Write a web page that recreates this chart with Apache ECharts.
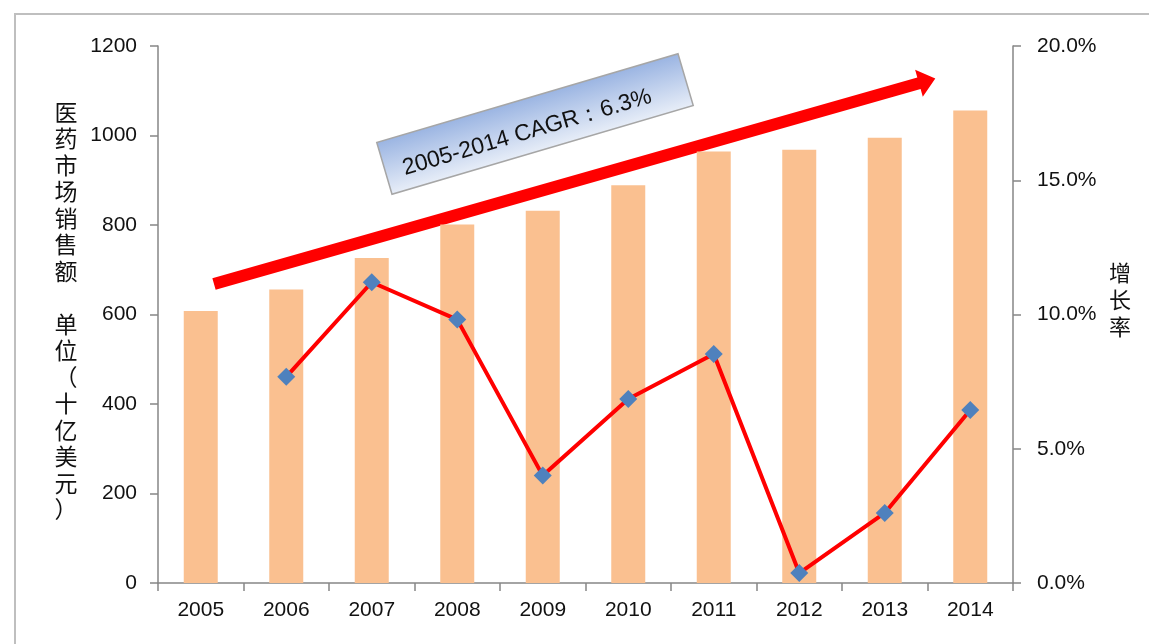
<!DOCTYPE html>
<html>
<head>
<meta charset="utf-8">
<script src="https://cdn.jsdelivr.net/npm/echarts@6/dist/echarts.min.js"></script>
<style>
  html, body { margin: 0; padding: 0; background: #fff; }
  #chart { width: 1149px; height: 644px; }
</style>
</head>
<body>
<div id="chart"></div>
<script>
const years = ['2005', '2006', '2007', '2008', '2009', '2010', '2011', '2012', '2013', '2014']
// 医药市场销售额（十亿美元）
const sales = [608, 656, 726, 801, 832, 889, 964, 968, 995, 1056]
// 增长率（%），2005 无数据
const growth = [null, 7.68, 11.2, 9.81, 4.0, 6.85, 8.53, 0.37, 2.61, 6.44]
const leftTitle = '医药市场销售额\u3000单位（十亿美元）'
const rightTitle = '增长率'
const cagrText = '2005-2014 CAGR：6.3%'

const labelFont = '"Liberation Sans", Arial, sans-serif'
const cjkFont = '"Noto Sans CJK SC", sans-serif'
const axisGray = '#868686'
const textColor = '#111'

const chart = echarts.init(document.getElementById('chart'))

const deg = Math.PI / 180

chart.setOption({
  animation: false,
  backgroundColor: '#fff',
  grid: { left: 158, right: 136, top: 46, bottom: 61 },
  xAxis: {
    type: 'category',
    data: years,
    axisLine: { lineStyle: { color: axisGray, width: 1.5 } },
    axisTick: { show: true, length: 8, lineStyle: { color: axisGray, width: 1.5 } },
    axisLabel: { color: textColor, fontSize: 21, fontFamily: labelFont, margin: 17 },
  },
  yAxis: [
    {
      type: 'value',
      min: 0,
      max: 1200,
      interval: 200,
      splitLine: { show: false },
      axisLine: { show: true, lineStyle: { color: axisGray, width: 1.5 } },
      axisTick: { show: true, length: 8, lineStyle: { color: axisGray, width: 1.5 } },
      axisLabel: {
        color: textColor,
        fontSize: 21,
        fontFamily: labelFont,
        margin: 21,
        formatter: (v) => String(v),
      },
    },
    {
      type: 'value',
      min: 0,
      max: 20,
      interval: 5,
      position: 'right',
      splitLine: { show: false },
      axisLine: { show: true, lineStyle: { color: axisGray, width: 1.5 } },
      axisTick: { show: true, length: 8, lineStyle: { color: axisGray, width: 1.5 } },
      axisLabel: {
        color: textColor,
        fontSize: 21,
        fontFamily: labelFont,
        margin: 24,
        formatter: (v) => v.toFixed(1) + '%',
      },
    },
  ],
  series: [
    {
      name: '医药市场销售额',
      type: 'bar',
      data: sales,
      barWidth: 34,
      itemStyle: { color: '#FAC090' },
    },
    {
      name: '增长率',
      type: 'line',
      yAxisIndex: 1,
      data: growth,
      symbol: 'diamond',
      symbolSize: 18,
      lineStyle: { color: '#FF0000', width: 4 },
      itemStyle: { color: '#4F81BD' },
      z: 5,
    },
  ],
  graphic: [
    {
      type: 'rect',
      silent: true,
      shape: { x: 15, y: 14, width: 1400, height: 900 },
      style: { fill: 'none', stroke: '#BFBFBF', lineWidth: 2 },
    },
    {
      type: 'text',
      x: 66,
      y: 311,
      style: {
        text: leftTitle.split('').join('\n'),
        font: '23px ' + cjkFont,
        fill: textColor,
        align: 'center',
        verticalAlign: 'middle',
        lineHeight: 26.5,
      },
    },
    {
      type: 'text',
      x: 1120,
      y: 300,
      style: {
        text: rightTitle.split('').join('\n'),
        font: '22px ' + cjkFont,
        fill: textColor,
        align: 'center',
        verticalAlign: 'middle',
        lineHeight: 27,
      },
    },
    {
      // trend arrow
      type: 'group',
      x: 214,
      y: 284,
      rotation: 15.9 * deg,
      z: 100,
      children: [
        {
          type: 'polygon',
          shape: {
            points: [[0, -6], [733, -6], [733, -14], [750, 0], [733, 14], [733, 6], [0, 6]],
          },
          style: { fill: '#FF0000' },
        },
      ],
    },
    {
      // CAGR box
      type: 'group',
      x: 535,
      y: 124,
      rotation: 16.4 * deg,
      z: 100,
      children: [
        {
          type: 'rect',
          shape: { x: -157, y: -27, width: 314, height: 54 },
          style: {
            fill: new echarts.graphic.LinearGradient(0, 0, 0, 1, [
              { offset: 0, color: '#9AB4E2' },
              { offset: 1, color: '#E8EEF8' },
            ]),
            stroke: '#A6A6A6',
            lineWidth: 1.5,
          },
        },
        {
          type: 'text',
          x: -10,
          y: 6,
          style: {
            text: cagrText,
            font: '23px ' + labelFont,
            fill: textColor,
            align: 'center',
            verticalAlign: 'middle',
          },
        },
      ],
    },
  ],
})
</script>
</body>
</html>
